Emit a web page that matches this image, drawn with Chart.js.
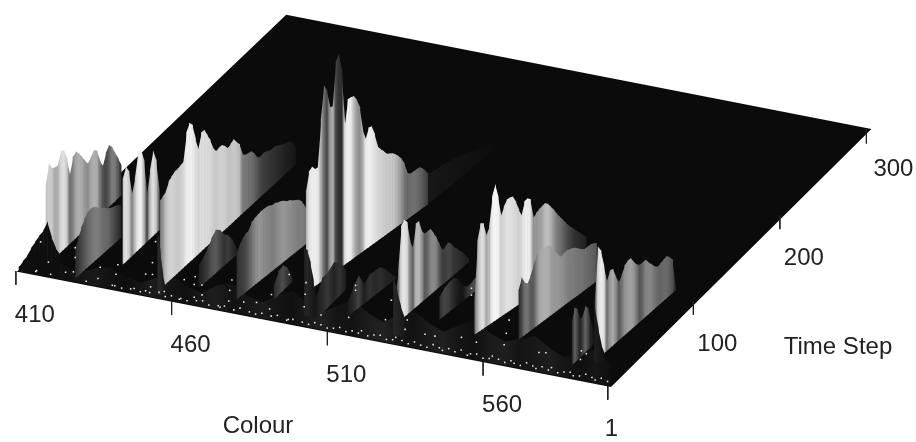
<!DOCTYPE html>
<html>
<head>
<meta charset="utf-8">
<title>Colour / Time Step surface</title>
<script src="https://cdn.jsdelivr.net/npm/chart.js@4"></script>
<style>
  html, body { margin: 0; padding: 0; background: #fff; }
  canvas { display: block; filter: blur(0.45px); }
</style>
</head>
<body>
<canvas id="canvas-1" width="916" height="442"></canvas>
<script>
'use strict';

var colourRange = [410, 600];
var timeRange = [1, 300];
var colourTicks = [410, 460, 510, 560, 600];
var colourTickLabels = ['410', '460', '510', '560'];
var timeTicks = [1, 100, 200, 300];
var timeTickLabels = ['1', '100', '200', '300'];

// low dark hills along the whole front, everything else stands in front of them
var frontSpan = [410, 600, 1, 1];
var frontHeights = [5,12,20,14,10,18,22,16,12,20,26,18,14,24,30,20,16,26,34,24,18,28,36,26,20,30,38,28,22,32,40,30,24,30,36,26,20,28,34,20];
var frontShades = [14,18,24,16,20,26,18,15,22,28,20,16,24,30,18,22,28,20,16,26,32,20,18,28,34,22,18,26,32,20,16,26,30,20,24,30,20,16,22,14];

// each ridge: colour start/end, time start/end, then height and grey level along it
var ridgeASpan = [415.8, 416.1, 10.8, 93.8];
var ridgeAHeights = [82,102,94,92,91,103,101,89,69,85,88,83,77,70,64,68,72,69,55,47,58,63,58,49,41,31];
var ridgeAShades = [190,205,200,170,175,215,225,200,110,130,165,175,170,150,140,165,175,170,120,80,70,90,125,120,90,50];

var ridgeBSpan = [427, 427.9, 4.8, 52.6];
var ridgeBHeights = [31,38,46,52,56,57,56,53,49,47,44,41,39,38,36,34];
var ridgeBShades = [40,55,70,85,100,110,120,125,120,110,105,100,85,70,55,40];

var ridgeCSpan = [435.9, 436, 27, 67.4];
var ridgeCHeights = [87,97,89,62,76,99,100,85,47,70,87,74,41];
var ridgeCShades = [200,225,205,130,190,235,240,180,70,190,225,195,100];

var ridgeDSpan = [452.7, 454.3, 10, 157];
var ridgeDHeights = [90,92,94,102,104,106,106,107,108,135,142,137,120,106,121,121,113,105,94,88,89,89,85,80,82,84,78,73,60,57,56,55,50,43,41,42,41,39,38,38,36,34,32,31,29,25,18];
var ridgeDShades = [110,150,190,205,210,205,200,205,215,235,240,240,225,215,222,220,218,215,205,200,205,210,205,195,195,200,195,185,125,120,115,110,100,85,70,62,58,54,50,46,42,38,34,30,28,25,20];

var humpDSpan = [453.4, 455.9, 4.8, 4.8];
var humpDHeights = [65,45,21,8];
var humpDShades = [40,40,30,20];

var ridgeESpan = [462.7, 463.6, 19, 58];
var ridgeEHeights = [23,27,32,39,44,40,32,27,19,6];
var ridgeEShades = [30,45,60,80,90,70,50,60,45,30];

var ridgeFSpan = [476, 479.4, 14.8, 86];
var ridgeFHeights = [47,53,57,60,60,66,68,69,70,70,70,69,67,67,65,64,62,59,58,55,53,51,47,40,34,32];
var ridgeFShades = [45,55,60,70,90,110,130,145,150,140,135,130,125,130,140,145,150,145,140,135,130,125,125,120,115,110];

var ridgeGSpan = [486, 486, 21.6, 42];
var ridgeGHeights = [14,24,26,19,5];
var ridgeGShades = [40,60,75,55,35];

var ridgeHSpan = [492.7, 501, 34.4, 143.7];
var ridgeHHeights = [103,121,124,119,119,165,198,190,171,170,213,219,199,140,166,166,165,159,149,124,112,122,121,111,96,91,87,82,80,78,75,71,66,59,47,44,44,44,44,41,36,31];
var ridgeHShades = [170,225,235,235,230,170,110,70,150,175,70,50,45,220,240,235,190,155,140,170,230,240,235,225,215,210,205,200,200,198,190,170,150,120,105,110,115,110,100,90,75,60];

var ridgeISpan = [501, 503.7, 143.7, 206.5];
var ridgeIHeights = [30,28,25,20,14,6];
var ridgeIShades = [24,21,19,17,15,13];

var humpHSpan = [498.5, 502.3, 12, 12];
var humpHHeights = [68,67,55,38,18];
var humpHShades = [35,35,30,25,20];

var ridgeJSpan = [502.8, 502.5, 10.4, 44.7];
var ridgeJHeights = [22,36,36,40,34,20];
var ridgeJShades = [25,40,55,35,50,30];

var ridgeKSpan = [510.4, 513, 19.2, 65.8];
var ridgeKHeights = [14,25,33,19,25,25,24,17,8,1];
var ridgeKShades = [25,40,65,30,50,40,45,35,30,25];

var ridgeLSpan = [525.4, 528, 20.3, 94.6];
var ridgeLHeights = [25,52,95,99,94,72,62,85,85,72,67,67,67,60,53,44,35,36,38,34,28,24,19,15,9,4];
var ridgeLShades = [60,120,220,230,215,130,100,180,185,150,90,100,130,140,130,90,65,60,70,65,50,50,45,40,35,30];

var humpLSpan = [527.8, 531.3, 9.5, 9.5];
var humpLHeights = [60,46,31,20];
var humpLShades = [40,35,30,25];

var ridgeMSpan = [535.9, 537.8, 33.5, 69.3];
var ridgeMHeights = [23,28,30,31,26,16,11,12,15];
var ridgeMShades = [45,70,60,40,25,20,50,70,80];

var ridgeNSpan = [549.4, 558.6, 25.5, 120.5];
var ridgeNHeights = [35,93,109,107,92,100,128,139,124,102,110,115,115,114,107,97,88,101,102,99,78,81,83,84,85,82,77,72,66,61,56,51,46,42,38,34,30,26,22];
var ridgeNShades = [110,170,215,225,170,190,240,245,240,205,215,225,225,220,215,205,215,235,240,230,150,150,155,165,185,190,175,150,125,115,100,85,70,60,50,45,40,35,30];

var ridgeOSpan = [562.6, 567.6, 29, 100.4];
var ridgeOHeights = [50,61,53,50,56,64,72,75,74,73,73,69,63,57,52,53,54,53,52,50,47,44,42,42,42,41,39];
var ridgeOShades = [40,70,110,115,90,90,130,165,170,175,170,155,150,150,145,140,130,125,125,120,115,115,110,105,100,95,85];

var ridgePSpan = [583.9, 584, 14, 38.3];
var ridgePHeights = [44,56,52,39,39,47,42,27,13];
var ridgePShades = [30,95,70,35,60,100,70,35,25];

var ridgeQSpan = [589, 591.4, 22.2, 106.6];
var ridgeQHeights = [62,114,107,89,70,79,78,67,59,64,71,73,73,66,61,58,58,58,52,48,43,40,41,42,43,39,34,2];
var ridgeQShades = [70,215,235,225,110,150,170,140,90,110,145,155,160,150,120,85,100,130,135,130,115,105,100,105,105,95,80,40];

var humpQSpan = [589.4, 592.3, 21, 21];
var humpQHeights = [55,36,20,11];
var humpQShades = [30,25,20,18];

// low black hump at the 410 corner, sits in front of ridge A
var cornerSpan = [410, 423, 1, 1];
var cornerHeights = [4,11,17,26,33,40,46,56,41,31,25];
var cornerShades = [14,14,14,14,14,14,14,14,14,14,14];

// white specks along the front
var speckColours = [415.7,417,419.5,415.4,420.2,428.1,428.1,427.5,425,436.1,435.4,441.8,441.2,440.8,431.6,445.9,450.7,452.9,452.9,453.9,452.3,450.7,456.7,463.1,466.6,466.3,468.8,468.8,466.3,461.5,478.4,477.7,477.4,474.6,482.2,486.3,491.1,490.5,496.8,502.2,501.9,501.6,496.5,507,518.1,518.1,515.9,529.6,527.7,534.7,534,540.4,543.6,555.3,555.3,552.1,556.9,567.4,566.5,565.8,577,579.2,590.6,590.3,592.2];
var speckHeights = [4,34,15,3,3,35,25,10,8,20,8,26,16,4,3,4,22,23,35,57,10,5,8,24,29,21,22,12,8,3,33,22,11,3,13,15,26,11,50,45,33,20,4,15,52,47,18,44,23,27,17,16,16,72,65,20,18,47,33,21,20,21,30,21,28];

var teethColours = [440,443,447,449,452,455,457,459,462,464,467,469,471,474,476,479,481,484,486,488,491,493,496,498,501,503,505,507,509,511,513,515,517,519,520,522,524,526,528,530,531,533,535,537,539,541,543,545,546,548,550,552,554,555,557,559,561,562,564,566,568,569,571,573,575,576,578,580,581,583,585,587,588,590,592,594,595,597,599];
var teethHeights = [4,3,5,3,4,6,3,5,4,3,5,6,3,4,5,3,6,4,3,5,4,6,3,5,4,3,6,5,3,4,6,3,5,4,7,3,5,6,3,4,7,5,3,6,4,3,7,5,3,6,4,7,3,5,6,3,4,7,5,3,6,4,3,7,5,3,6,4,7,3,5,6,3,4,7,5,3,6,4];

var ridges = [
  [frontSpan, frontHeights, frontShades],
  [ridgeASpan, ridgeAHeights, ridgeAShades],
  [ridgeBSpan, ridgeBHeights, ridgeBShades],
  [ridgeCSpan, ridgeCHeights, ridgeCShades],
  [ridgeDSpan, ridgeDHeights, ridgeDShades],
  [humpDSpan, humpDHeights, humpDShades],
  [ridgeESpan, ridgeEHeights, ridgeEShades],
  [ridgeFSpan, ridgeFHeights, ridgeFShades],
  [ridgeGSpan, ridgeGHeights, ridgeGShades],
  [ridgeHSpan, ridgeHHeights, ridgeHShades],
  [ridgeISpan, ridgeIHeights, ridgeIShades],
  [humpHSpan, humpHHeights, humpHShades],
  [ridgeJSpan, ridgeJHeights, ridgeJShades],
  [ridgeKSpan, ridgeKHeights, ridgeKShades],
  [ridgeLSpan, ridgeLHeights, ridgeLShades],
  [humpLSpan, humpLHeights, humpLShades],
  [ridgeMSpan, ridgeMHeights, ridgeMShades],
  [ridgeNSpan, ridgeNHeights, ridgeNShades],
  [ridgeOSpan, ridgeOHeights, ridgeOShades],
  [ridgePSpan, ridgePHeights, ridgePShades],
  [ridgeQSpan, ridgeQHeights, ridgeQShades],
  [humpQSpan, humpQHeights, humpQShades],
  [cornerSpan, cornerHeights, cornerShades]
];

// colour, time and height to the flat x/y of the chart
function project(colour, time, height) {
  var u = (colour - colourRange[0]) / (colourRange[1] - colourRange[0]);
  var v = (time - timeRange[0]) / (timeRange[1] - timeRange[0]);
  return {
    x: 15 + 597 * u + 270 * v - 9 * u * v,
    y: 272 + 117 * u - 260 * v - u * v - height
  };
}

function grey(level) {
  return 'rgb(' + level + ',' + level + ',' + level + ')';
}

function plain(data, extra) {
  return Object.assign({ data: data, showLine: false, pointRadius: 0 }, extra);
}

var datasets = [];

// floor
datasets.push(plain([
  project(colourRange[0], timeRange[0], 0),
  project(colourRange[1], timeRange[0], 0),
  project(colourRange[1], timeRange[1], 0),
  project(colourRange[0], timeRange[1], 0)
], { polygon: grey(11) }));

// ridges, tops first then feet in the same order
ridges.forEach(function (r) {
  var span = r[0], heights = r[1];
  var tops = [], feet = [];
  heights.forEach(function (h, k) {
    var f = k / (heights.length - 1);
    var c = span[0] + (span[1] - span[0]) * f;
    var t = span[2] + (span[3] - span[2]) * f;
    tops.push(project(c, t, h));
    feet.push(project(c, t, 0));
  });
  datasets.push(plain(tops.concat(feet), { strips: r[2] }));
});

datasets.push({
  data: speckColours.map(function (c, i) { return project(c, timeRange[0], speckHeights[i]); }),
  showLine: false, pointStyle: 'rect', pointRadius: 1.1, borderWidth: 0, backgroundColor: '#ececec'
});
datasets.push({
  data: teethColours.map(function (c, i) { return project(c, timeRange[0], teethHeights[i]); }),
  showLine: false, pointStyle: 'rect', pointRadius: 1.1, borderWidth: 0, backgroundColor: '#e4e4e4'
});

// tick marks hang from the floor edge
function tick(p) {
  return {
    data: [{ x: p.x - 3, y: p.y }, { x: p.x - 3, y: p.y + 14 }],
    showLine: true, pointRadius: 0, borderColor: '#222', borderWidth: 1
  };
}
colourTicks.forEach(function (c) { datasets.push(tick(project(c, timeRange[0], 0))); });
timeTicks.forEach(function (t) { datasets.push(tick(project(colourRange[1], t, 0))); });

// anything added later sits on top
datasets.forEach(function (d, i) { d.order = datasets.length - i; });

var surfacePlugin = {
  id: 'surface',
  beforeDatasetDraw: function (chart, args) {
    var ds = chart.data.datasets[args.index];
    var pts = args.meta.data;
    var ctx = chart.ctx;
    if (ds.polygon) {
      ctx.save();
      ctx.fillStyle = ds.polygon;
      ctx.strokeStyle = ds.polygon;
      ctx.lineWidth = 2;
      ctx.beginPath();
      pts.forEach(function (p, i) { if (i) ctx.lineTo(p.x, p.y); else ctx.moveTo(p.x, p.y); });
      ctx.closePath();
      ctx.fill();
      ctx.stroke();
      ctx.restore();
    }
    if (ds.strips) {
      var n = pts.length / 2;
      ctx.save();
      // back to front along the ridge
      for (var k = n - 2; k >= 0; k--) {
        var g = ctx.createLinearGradient(pts[k].x, 0, pts[k + 1].x, 0);
        g.addColorStop(0, grey(ds.strips[k]));
        g.addColorStop(1, grey(ds.strips[k + 1]));
        ctx.fillStyle = g;
        ctx.beginPath();
        ctx.moveTo(pts[k].x, pts[k].y);
        ctx.lineTo(pts[k + 1].x + 0.6, pts[k + 1].y);
        ctx.lineTo(pts[n + k + 1].x + 0.6, pts[n + k + 1].y);
        ctx.lineTo(pts[n + k].x, pts[n + k].y);
        ctx.closePath();
        ctx.fill();
      }
      ctx.restore();
    }
  },
  afterDraw: function (chart) {
    var ctx = chart.ctx;
    var sx = chart.scales.x, sy = chart.scales.y;
    ctx.save();
    ctx.fillStyle = '#222';
    ctx.font = '24px "Liberation Sans", Arial, sans-serif';
    ctx.textBaseline = 'middle';
    ctx.textAlign = 'left';
    function label(text, p, dx, dy) {
      ctx.fillText(text, sx.getPixelForValue(p.x) + dx, sy.getPixelForValue(p.y) + dy);
    }
    colourTickLabels.forEach(function (s) { label(s, project(Number(s), timeRange[0], 0), -4, 44); });
    timeTickLabels.forEach(function (s) {
      var t = Number(s);
      label(s, project(colourRange[1], t, 0), s === '1' ? -6 : (t === 300 ? 4 : 1), t === 300 ? 40 : 43);
    });
    ctx.textAlign = 'center';
    ctx.fillText('Colour', 258, 426);
    ctx.fillText('Time Step', 838, 347);
    ctx.restore();
  }
};

var ctx = document.getElementById('canvas-1');
var chart = new Chart(ctx, {
  type: 'scatter',
  data: { datasets: datasets },
  plugins: [surfacePlugin],
  options: {
    responsive: false,
    animation: false,
    layout: { padding: 0 },
    plugins: { legend: { display: false }, tooltip: { enabled: false } },
    scales: {
      x: { type: 'linear', display: false, min: 0, max: 916 },
      y: { type: 'linear', display: false, min: 0, max: 442, reverse: true }
    }
  }
});
</script>
</body>
</html>
